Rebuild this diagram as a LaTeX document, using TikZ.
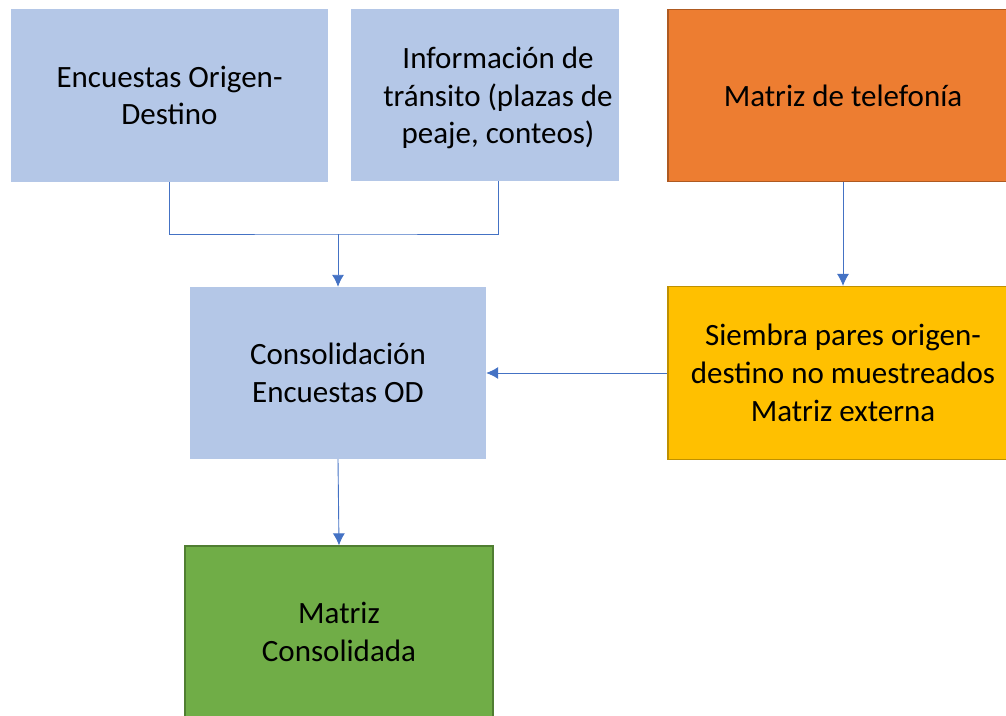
\documentclass[tikz,border=0pt]{standalone}
\usepackage{fontspec}
\setmainfont{Carlito}
\usetikzlibrary{arrows.meta}
\definecolor{boxblue}{HTML}{B4C7E7}
\definecolor{boxorange}{HTML}{ED7D31}
\definecolor{edgeorange}{HTML}{AE5A21}
\definecolor{boxyellow}{HTML}{FFC000}
\definecolor{edgeyellow}{HTML}{BF9000}
\definecolor{boxgreen}{HTML}{70AD47}
\definecolor{edgegreen}{HTML}{507E32}
\definecolor{linkblue}{HTML}{4472C4}
\tikzset{
    stagebox/.style={inner sep=0pt, align=center, font=\fontsize{31pt}{37.8pt}\selectfont},
    link/.style={draw=linkblue, line width=0.9pt},
    linkarrow/.style={link, -{Latex[length=12pt,width=12pt]}}
}
\begin{document}
\begin{tikzpicture}[x=1pt, y=-1pt]
    \useasboundingbox (0,0) rectangle (1006,715);
    \node[stagebox, fill=boxblue, minimum width=317pt, minimum height=173pt] (encuestas) at (169.5, 95.5) {Encuestas Origen-\\Destino};
    \node[stagebox, fill=boxblue, minimum width=268pt, minimum height=172pt,
        label={[stagebox, xshift=13pt, yshift=-3pt]center:Información de\\tránsito (plazas de\\peaje, conteos)}] (transito) at (485, 95) {};
    \node[stagebox, fill=boxorange, draw=edgeorange, line width=1.2pt, minimum width=350pt, minimum height=172pt] (telefonia) at (843, 95.5) {Matriz de telefonía};
    \node[stagebox, fill=boxblue, minimum width=296pt, minimum height=172pt] (consolidacion) at (338, 373) {Consolidación\\Encuestas OD};
    \node[stagebox, fill=boxyellow, draw=edgeyellow, line width=1.2pt, minimum width=350pt, minimum height=173pt] (siembra) at (843, 373) {Siembra pares origen-\\destino no muestreados\\Matriz externa};
    \node[stagebox, fill=boxgreen, draw=edgegreen, line width=1.2pt, minimum width=308pt, minimum height=172pt] (consolidada) at (339, 632) {Matriz\\Consolidada};
    \coordinate (union) at (338, 234);
    \draw[link] (encuestas.south) |- (union) -| ([xshift=13pt]transito.south);
    \draw[linkarrow] (union) -- (consolidacion.north);
    \draw[linkarrow] (telefonia.south) -- (siembra.north);
    \draw[linkarrow] (siembra.west) -- (consolidacion.east);
    \draw[linkarrow] (consolidacion.south) -- (consolidada.north);
\end{tikzpicture}
\end{document}
